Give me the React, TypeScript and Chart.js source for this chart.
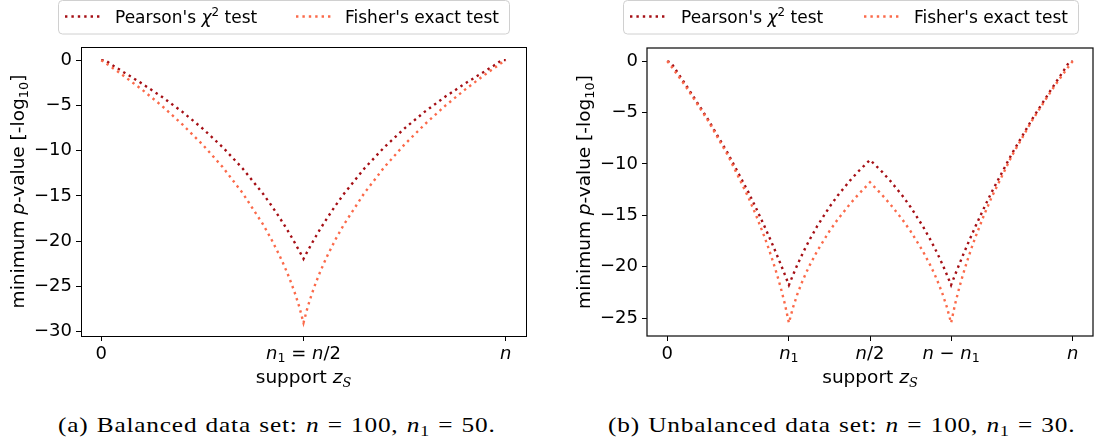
import React, { useEffect, useRef } from "react";
import { Chart, registerables } from "chart.js";

Chart.register(...registerables);

const PEARSON_COLOR = "#a50f15";
const FISHER_COLOR = "#fb6a4a";
const SANS = "'DejaVu Sans', sans-serif";

// (a) Balanced data set: n = 100, n1 = 50
const supportA = [0, 1, 2, 3, 4, 5, 10, 15, 20, 25, 30, 35, 40, 42, 44, 45, 46, 47, 48, 49, 50, 51, 52, 53, 54, 55, 56, 58, 60, 65, 70, 75, 80, 85, 90, 95, 96, 97, 98, 99, 100];
const pearsonA = [0, 0, -0.32, -0.62, -0.9, -1.18, -2.57, -4.05, -5.69, -7.53, -9.61, -11.99, -14.77, -16.01, -17.34, -18.04, -18.76, -19.51, -20.3, -21.11, -21.95, -21.11, -20.3, -19.51, -18.76, -18.04, -17.34, -16.01, -14.77, -11.99, -9.61, -7.53, -5.69, -4.05, -2.57, -1.18, -0.9, -0.62, -0.32, 0, 0];
const fisherA = [0, -0.3, -0.61, -0.92, -1.23, -1.55, -3.23, -5.05, -7.08, -9.3, -11.81, -14.71, -18.15, -19.74, -21.51, -22.48, -23.52, -24.65, -25.9, -27.32, -29.02, -27.32, -25.9, -24.65, -23.52, -22.48, -21.51, -19.74, -18.15, -14.71, -11.81, -9.3, -7.08, -5.05, -3.23, -1.55, -1.23, -0.92, -0.61, -0.3, 0];

// (b) Unbalanced data set: n = 100, n1 = 30
const supportB = [0, 1, 2, 3, 4, 5, 10, 15, 20, 22, 24, 25, 26, 27, 28, 29, 30, 31, 32, 33, 34, 35, 37, 40, 42, 45, 47, 50, 53, 55, 58, 60, 63, 65, 66, 67, 68, 69, 70, 71, 72, 73, 74, 75, 76, 78, 80, 85, 90, 95, 96, 97, 98, 99, 100];
const pearsonB = [0, -0.18, -0.79, -1.39, -1.98, -2.57, -5.64, -9.01, -12.75, -14.38, -16.09, -16.98, -17.89, -18.82, -19.78, -20.77, -21.79, -20.81, -19.89, -19.03, -18.22, -17.45, -16.04, -14.19, -13.1, -11.65, -10.78, -9.61, -10.78, -11.65, -13.1, -14.19, -16.04, -17.45, -18.22, -19.03, -19.89, -20.81, -21.79, -20.77, -19.78, -18.82, -17.89, -16.98, -16.09, -14.38, -12.75, -9.01, -5.64, -2.57, -1.98, -1.39, -0.79, -0.18, 0];
const fisherB = [0, -0.52, -1.06, -1.6, -2.16, -2.72, -5.76, -9.21, -13.25, -15.1, -17.13, -18.23, -19.41, -20.67, -22.06, -23.62, -25.47, -23.98, -22.77, -21.73, -20.8, -19.96, -18.46, -16.54, -15.42, -13.93, -13.03, -11.79, -13.03, -13.93, -15.42, -16.54, -18.46, -19.96, -20.8, -21.73, -22.77, -23.98, -25.47, -23.62, -22.06, -20.67, -19.41, -18.23, -17.13, -15.1, -13.25, -9.21, -5.76, -2.72, -2.16, -1.6, -1.06, -0.52, 0];

const xTicksA = [0, 50, 100];
const xTicksB = [0, 30, 50, 70, 100];
const yTicksA = [-30, -25, -20, -15, -10, -5, 0];
const yTicksB = [-25, -20, -15, -10, -5, 0];

type Seg = { t: string; it?: boolean; sub?: boolean; sup?: boolean; serif?: boolean };

const xTickLabelsA: Seg[][] = [
  [{ t: "0" }],
  [{ t: "n", it: true }, { t: "1", sub: true }, { t: " = " }, { t: "n", it: true }, { t: "/2" }],
  [{ t: "n", it: true }],
];
const xTickLabelsB: Seg[][] = [
  [{ t: "0" }],
  [{ t: "n", it: true }, { t: "1", sub: true }],
  [{ t: "n", it: true }, { t: "/2" }],
  [{ t: "n", it: true }, { t: " \u2212 " }, { t: "n", it: true }, { t: "1", sub: true }],
  [{ t: "n", it: true }],
];
const xTitle: Seg[] = [{ t: "support " }, { t: "z", it: true }, { t: "S", sub: true, it: true, serif: true }];
const yTitle: Seg[] = [{ t: "minimum " }, { t: "p", it: true }, { t: "-value [-log" }, { t: "10", sub: true }, { t: "]" }];
const legendPearson: Seg[] = [{ t: "Pearson's " }, { t: "\u03c7", it: true }, { t: "2", sup: true }, { t: " test" }];
const legendFisher: Seg[] = [{ t: "Fisher's exact test" }];

function segFont(s: Seg, size: number) {
  const sz = s.sub || s.sup ? size * 0.7 : size;
  const fam = s.serif ? "'DejaVu Serif', serif" : SANS;
  return `${s.it ? "italic " : ""}${sz}px ${fam}`;
}

function drawRich(ctx: CanvasRenderingContext2D, segs: Seg[], x: number, y: number, size: number, align: "left" | "center") {
  let w = 0;
  for (const s of segs) {
    ctx.font = segFont(s, size);
    w += ctx.measureText(s.t).width;
  }
  let cx = align === "center" ? x - w / 2 : x;
  ctx.textAlign = "left";
  ctx.textBaseline = "alphabetic";
  ctx.fillStyle = "#000";
  for (const s of segs) {
    ctx.font = segFont(s, size);
    const dy = s.sub ? size * 0.22 : s.sup ? -size * 0.42 : 0;
    ctx.fillText(s.t, cx, y + dy);
    cx += ctx.measureText(s.t).width;
  }
}

type LegendCfg = { x: number; w: number; h1: number; t1: number; h2: number; t2: number };

type PanelProps = {
  left: number;
  width: number;
  height: number;
  support: number[];
  pearson: number[];
  fisher: number[];
  yMin: number;
  yMax: number;
  yTicks: number[];
  xTicks: number[];
  xLabels: Seg[][];
  yAxisWidth: number;
  padTop: number;
  padRight: number;
  xAxisHeight: number;
  legend: LegendCfg;
  crisp: boolean;
};

function PanelChart(p: PanelProps) {
  const ref = useRef<HTMLCanvasElement>(null);
  useEffect(() => {
    const canvas = ref.current as HTMLCanvasElement;
    const decor = {
      id: "decor",
      afterDraw(chart: any) {
        const ctx: CanvasRenderingContext2D = chart.ctx;
        const a = chart.chartArea;
        ctx.save();
        // frame (spines)
        ctx.setLineDash([]);
        ctx.strokeStyle = p.crisp ? "#000" : "#111";
        ctx.lineWidth = p.crisp ? 1 : 1.25;
        const off = p.crisp ? 0.5 : 0;
        ctx.strokeRect(a.left + off, a.top + off, a.right - a.left, a.bottom - a.top);
        // x tick labels
        const xs = chart.scales.x;
        p.xTicks.forEach((v, i) => {
          drawRich(ctx, p.xLabels[i], xs.getPixelForValue(v), a.bottom + 22.5, 18, "center");
        });
        // x title
        drawRich(ctx, xTitle, (a.left + a.right) / 2, a.bottom + 47, 18.5, "center");
        // y title
        ctx.save();
        ctx.translate(a.left - 57, (a.top + a.bottom) / 2);
        ctx.rotate(-Math.PI / 2);
        drawRich(ctx, yTitle, 0, 0, 18.5, "center");
        ctx.restore();
        // legend
        const L = p.legend;
        ctx.beginPath();
        (ctx as any).roundRect(L.x + 0.5, 0.5, L.w, 33.5, 4);
        ctx.fillStyle = "rgba(255,255,255,0.8)";
        ctx.fill();
        ctx.strokeStyle = "#d0d0d0";
        ctx.lineWidth = 1;
        ctx.stroke();
        const entries: [number, number, string, Seg[]][] = [
          [L.h1, L.t1, PEARSON_COLOR, legendPearson],
          [L.h2, L.t2, FISHER_COLOR, legendFisher],
        ];
        for (const [hx, tx, col, segs] of entries) {
          ctx.save();
          ctx.setLineDash([2.4, 4]);
          ctx.lineWidth = 2.4;
          ctx.strokeStyle = col;
          ctx.beginPath();
          ctx.moveTo(hx, 16.5);
          ctx.lineTo(hx + 35, 16.5);
          ctx.stroke();
          ctx.restore();
          drawRich(ctx, segs, tx, 23, 17, "left");
        }
        ctx.restore();
      },
    };

    const tickGrid = {
      display: true,
      drawOnChartArea: false,
      drawTicks: true,
      tickLength: 5,
      color: "#000",
      tickColor: "#000",
      lineWidth: 1,
    };

    const chart = new Chart(canvas, {
      type: "line",
      data: {
        datasets: [
          {
            label: "Pearson's \u03c7\u00b2 test",
            data: p.support.map((x, i) => ({ x, y: p.pearson[i] })),
            borderColor: PEARSON_COLOR,
            backgroundColor: PEARSON_COLOR,
            borderWidth: 2.4,
            borderDash: [2.4, 4],
            pointRadius: 0,
            fill: false,
            tension: 0,
            order: 1,
          },
          {
            label: "Fisher's exact test",
            data: p.support.map((x, i) => ({ x, y: p.fisher[i] })),
            borderColor: FISHER_COLOR,
            backgroundColor: FISHER_COLOR,
            borderWidth: 2.4,
            borderDash: [2.4, 4],
            pointRadius: 0,
            fill: false,
            tension: 0,
            order: 0,
          },
        ],
      },
      options: {
        animation: false,
        responsive: false,
        devicePixelRatio: 1,
        events: [],
        layout: { padding: { top: p.padTop, right: p.padRight, bottom: 0, left: 0 } },
        plugins: { legend: { display: false }, tooltip: { enabled: false } },
        scales: {
          x: {
            type: "linear",
            min: -5,
            max: 105,
            afterBuildTicks: (s: any) => {
              s.ticks = p.xTicks.map((v) => ({ value: v }));
            },
            afterFit: (s: any) => {
              s.height = p.xAxisHeight;
            },
            ticks: { display: false, autoSkip: false },
            grid: tickGrid,
            border: { display: false },
          },
          y: {
            type: "linear",
            min: p.yMin,
            max: p.yMax,
            afterBuildTicks: (s: any) => {
              s.ticks = p.yTicks.map((v) => ({ value: v }));
            },
            afterFit: (s: any) => {
              s.width = p.yAxisWidth;
            },
            ticks: {
              display: true,
              autoSkip: false,
              padding: 4,
              color: "#000",
              font: { family: SANS, size: 18 },
              callback: (v: any) => (Number(v) === 0 ? "0" : "\u2212" + Math.abs(Number(v))),
            },
            grid: tickGrid,
            border: { display: false },
          },
        },
      } as any,
      plugins: [decor],
    });
    return () => chart.destroy();
  }, []);
  return (
    <canvas
      ref={ref}
      width={p.width}
      height={p.height}
      style={{ position: "absolute", left: p.left, top: 0, width: p.width, height: p.height }}
    />
  );
}

const capStyle = (left: number): React.CSSProperties => ({
  position: "absolute",
  left,
  top: 414,
  fontFamily: "'Liberation Serif', serif",
  fontSize: 22,
  lineHeight: "22px",
  letterSpacing: "0.7px",
  wordSpacing: "1px",
  whiteSpace: "nowrap",
  color: "#000",
  transform: "scaleX(1.15)",
  transformOrigin: "left top",
});
const subStyle: React.CSSProperties = { fontSize: "70%", verticalAlign: "-0.25em", lineHeight: 0 };

export default function App() {
  return (
    <div style={{ position: "fixed", left: 0, top: 0, width: 1115, height: 447, background: "#fff", overflow: "hidden" }}>
      <PanelChart
        left={0}
        width={557}
        height={400}
        support={supportA}
        pearson={pearsonA}
        fisher={fisherA}
        yMin={-30.475}
        yMax={1.451}
        yTicks={yTicksA}
        xTicks={xTicksA}
        xLabels={xTickLabelsA}
        yAxisWidth={81}
        padTop={47}
        padRight={31}
        xAxisHeight={64}
        legend={{ x: 58, w: 451, h1: 65, t1: 115, h2: 296, t2: 345 }}
        crisp={true}
      />
      <PanelChart
        left={557}
        width={558}
        height={400}
        support={supportB}
        pearson={pearsonB}
        fisher={fisherB}
        yMin={-26.741}
        yMax={1.273}
        yTicks={yTicksB}
        xTicks={xTicksB}
        xLabels={xTickLabelsB}
        yAxisWidth={90}
        padTop={48}
        padRight={22}
        xAxisHeight={64}
        legend={{ x: 66, w: 455, h1: 73, t1: 124, h2: 307, t2: 357 }}
        crisp={false}
      />
      <div style={capStyle(58)}>
        (a) Balanced data set: <i>n</i> = 100, <i>n</i>
        <sub style={subStyle}>1</sub> = 50.
      </div>
      <div style={capStyle(608)}>
        (b) Unbalanced data set: <i>n</i> = 100, <i>n</i>
        <sub style={subStyle}>1</sub> = 30.
      </div>
    </div>
  );
}
